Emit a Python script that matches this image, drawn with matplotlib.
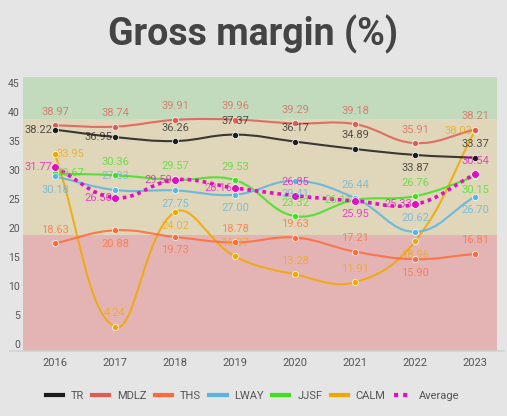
import numpy as np
import matplotlib.pyplot as plt
from matplotlib.path import Path
from matplotlib.patches import PathPatch
from matplotlib.lines import Line2D

plt.rcParams['font.family'] = ['Roboto', 'DejaVu Sans']

years = ['2016', '2017', '2018', '2019', '2020', '2021', '2022', '2023']
names = ['TR', 'MDLZ', 'THS', 'LWAY', 'JJSF', 'CALM', 'Average']

tr = [38.22, 36.95, 36.26, 37.37, 36.17, 34.89, 33.87, 33.37]
mdlz = [38.97, 38.74, 39.91, 39.96, 39.29, 39.18, 35.91, 38.21]
ths = [18.63, 20.88, 19.73, 18.78, 19.63, 17.21, 15.90, 16.81]
lway = [30.18, 27.83, 27.75, 27.00, 29.41, 26.44, 20.62, 26.70]
jjsf = [30.67, 30.36, 29.57, 29.53, 23.32, 26.11, 26.76, 30.15]
calm = [33.95, 4.24, 24.02, 16.37, 13.28, 11.91, 18.96, 38.03]
average = [31.77, 26.50, 29.59, 28.16, 26.85, 25.95, 25.33, 30.54]

series = [tr, mdlz, ths, lway, jjsf, calm, average]
colors = ['#1c1c1c', '#de5c52', '#ff6a3a', '#5ab4e0', '#40e020', '#f0a800', '#e010c0']

# where each value label sits relative to its point (u=up, d=down, l=left, r=right)
label_pos = [
    'lluuuudu',
    'uuuuuuuu',
    'udduuudu',
    'duddduud',
    'ruuuulud',
    'ruduuudl',
    'lllludlu',
]
shift = {'u': (0, 13.5), 'd': (0, -13.5), 'l': (-17, 0), 'r': (15.5, 0)}

SX, SY = 60.0, 5.8  # pixels per category / per unit


def spline_path(vals, t=0.4):
    p = np.array([[i * SX, v * SY] for i, v in enumerate(vals)])
    n = len(p)
    cprev, cnext = [], []
    for i in range(n):
        a = p[i - 1] if i > 0 else p[i]
        b = p[i]
        c = p[i + 1] if i < n - 1 else p[i]
        d01 = np.hypot(*(b - a))
        d12 = np.hypot(*(c - b))
        s01 = d01 / (d01 + d12) if d01 + d12 else 0
        s12 = d12 / (d01 + d12) if d01 + d12 else 0
        cprev.append(b - t * s01 * (c - a))
        cnext.append(b + t * s12 * (c - a))
    verts = [p[0]]
    codes = [Path.MOVETO]
    for i in range(1, n):
        verts += [cnext[i - 1], cprev[i], p[i]]
        codes += [Path.CURVE4] * 3
    verts = np.array(verts) / [SX, SY]
    return Path(verts, codes)


fig = plt.figure(figsize=(5.07, 4.16), dpi=100)
fig.patch.set_facecolor('#e5e5e5')
ax = fig.add_axes([9 / 507, 1 - 352 / 416, 496 / 507, 275 / 416])
ax.set_facecolor('#e5e5e5')
ax.set_xlim(-46 / 60, 7.5)
ax.set_ylim(-0.1, 47.3)
ax.axis('off')

x0, x1 = -32 / 60, 7 + 22 / 60
ax.fill_between([x0, x1], 0, 20, color='#e4b4b4', lw=0, zorder=0)
ax.fill_between([x0, x1], 20, 40, color='#e0d6b9', lw=0, zorder=0)
ax.fill_between([x0, x1], 40, 47.3, color='#c2dbbd', lw=0, zorder=0)
ax.axhline(0, color='#d2d2d2', lw=1.2, zorder=1)

xs = np.arange(len(years))
for k, (vals, col) in enumerate(zip(series, colors)):
    avg = names[k] == 'Average'
    z = 10 if avg else 8 - k
    patch = PathPatch(spline_path(vals), fill=False, edgecolor=col,
                      lw=2.6 if avg else 1.5, alpha=1 if avg else 0.85,
                      linestyle=(0, (1, 1.1)) if avg else '-',
                      capstyle='butt', zorder=z)
    ax.add_patch(patch)
    ax.plot(xs, vals, 'o', color=col, ms=5.6 if avg else 4.4,
            mec='white', mew=0.5, zorder=z + 0.5)

for vals, col, pos in zip(series, colors, label_pos):
    for i, v in enumerate(vals):
        dx, dy = shift[pos[i]]
        ax.annotate(f'{v:.2f}', (i, v), xytext=(dx, dy), textcoords='offset pixels',
                    ha='center', va='center', fontsize=8, color=col, alpha=0.72,
                    zorder=20)

for v in range(0, 50, 5):
    ax.annotate(str(v), (0, v), xycoords=('axes fraction', 'data'),
                xytext=(11, 6), textcoords='offset pixels',
                ha='right', va='center', fontsize=7.5, color='#555555')

for i, yr in enumerate(years):
    ax.annotate(yr, (i, 0), xycoords=('data', 'axes fraction'),
                xytext=(0, -11), textcoords='offset pixels',
                ha='center', va='center', fontsize=8, color='#555555')

handles = []
for name, col in zip(names, colors):
    if name == 'Average':
        handles.append(Line2D([], [], color=col, lw=3, linestyle=(0, (1, 1.2))))
    else:
        handles.append(Line2D([], [], color=col, lw=3))
fig.legend(handles, names, loc='center', bbox_to_anchor=(252.5 / 507, 20 / 416),
           ncol=7, frameon=False, fontsize=8, labelcolor='#555555',
           handlelength=1.55, handletextpad=0.7, columnspacing=0.75)

fig.text(252.5 / 507, 1 - 45 / 416, 'Gross margin (%)', ha='center', va='baseline',
         fontsize=27, fontweight='bold', color='#444444')

fig.savefig('out.png', dpi=100, facecolor=fig.get_facecolor())
